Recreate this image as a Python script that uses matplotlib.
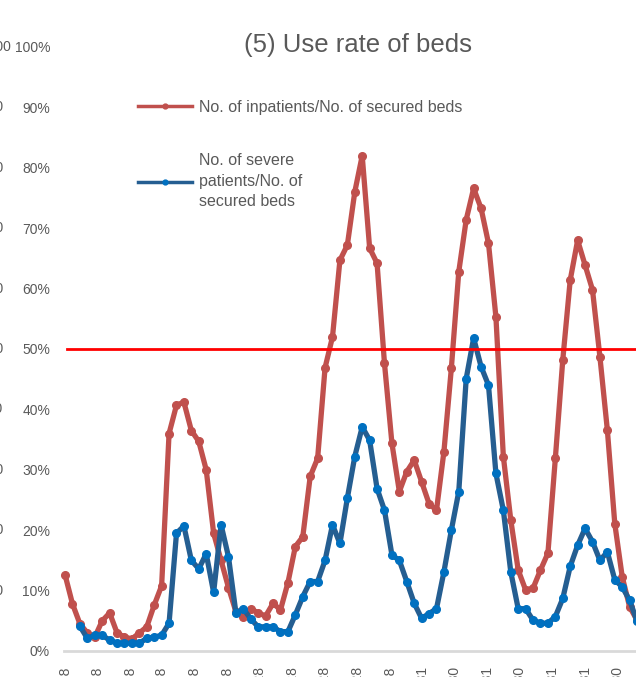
import numpy as np
import pandas as pd
import matplotlib
matplotlib.use("Agg")
import matplotlib.pyplot as plt
from matplotlib.lines import Line2D

plt.rcParams["font.family"] = ["Liberation Sans", "DejaVu Sans"]

# weekly values, % of secured beds
inpatients = [12.6, 7.8, 4.5, 3.0, 2.3, 5.0, 6.3, 3.0, 2.3, 2.0,
              3.0, 4.0, 7.6, 10.8, 36.0, 40.7, 41.2, 36.5, 34.7, 30.0,
              19.5, 15.0, 10.5, 6.5, 5.7, 7.0, 6.3, 5.8, 7.9, 6.8,
              11.3, 17.3, 18.9, 28.9, 31.9, 46.9, 52.0, 64.7, 67.2, 76.0,
              82.0, 66.7, 64.2, 47.6, 34.4, 26.4, 29.7, 31.6, 28.0, 24.4,
              23.3, 33.0, 46.8, 62.8, 71.4, 76.6, 73.3, 67.5, 55.3, 32.2,
              21.7, 13.4, 10.1, 10.4, 13.4, 16.2, 31.9, 48.2, 61.4, 68.0,
              63.9, 59.8, 48.7, 36.6, 21.1, 12.3, 7.3, 5.1]
severe = [np.nan, np.nan, 4.1, 2.1, 2.6, 2.6, 1.8, 1.3, 1.3, 1.3,
          1.3, 2.1, 2.3, 2.6, 4.6, 19.5, 20.7, 15.0, 13.6, 16.1,
          9.7, 20.9, 15.6, 6.3, 7.0, 5.3, 4.0, 4.0, 4.0, 3.2,
          3.2, 6.0, 9.0, 11.5, 11.5, 15.0, 20.9, 17.8, 25.3, 32.2,
          37.1, 34.9, 26.9, 23.3, 15.9, 15.0, 11.5, 7.9, 5.4, 6.2,
          7.0, 13.1, 20.0, 26.4, 45.1, 51.8, 47.1, 44.0, 29.4, 23.3,
          13.1, 7.0, 7.0, 5.1, 4.6, 4.6, 5.7, 8.7, 14.0, 17.5,
          20.3, 18.1, 15.0, 16.4, 11.8, 10.6, 8.4, 4.9]
dates = pd.date_range("2020-04-28", periods=len(inpatients), freq="7D")
threshold = 50

tick_dates = ["2020-04-28", "2020-05-28", "2020-06-28", "2020-07-28", "2020-08-28",
              "2020-09-28", "2020-10-28", "2020-11-28", "2020-12-28", "2021-01-28",
              "2021-02-28", "2021-03-31", "2021-04-30", "2021-05-31", "2021-06-30",
              "2021-07-31", "2021-08-31", "2021-09-30"]
left_fragments = [1000, 900, 800, 700, 600, 500, 400, 300, 200, 100]

red = "#C0504D"
blue_line = "#255E91"
blue_mark = "#0070C0"
grey_txt = "#595959"

W, H = 636, 677
fig = plt.figure(figsize=(W / 100, H / 100), dpi=100)
ax = fig.add_axes([64 / W, 26 / H, (W - 64) / W, 604 / H])

ax.plot(dates, np.array(inpatients) / 100, color=red, lw=3.8, marker="o", ms=5.5,
        solid_capstyle="round", solid_joinstyle="round", zorder=3, clip_on=False)
ax.plot(dates, np.array(severe) / 100, color=blue_line, lw=3.8, marker="o", ms=5.5,
        mfc=blue_mark, mec=blue_mark, solid_capstyle="round", solid_joinstyle="round",
        zorder=4, clip_on=False)
ax.axhline(threshold / 100, xmin=3 / (W - 64), color="#FF0000", lw=2, zorder=5)

x0 = dates[0] - pd.Timedelta(days=1)
ax.set_xlim(x0, x0 + pd.Timedelta(days=539))
ax.set_ylim(0, 1)

for s in ["top", "right", "left"]:
    ax.spines[s].set_visible(False)
ax.spines["bottom"].set_color("#D9D9D9")
ax.spines["bottom"].set_linewidth(2)
ax.spines["bottom"].set_zorder(1)

ax.set_yticks(np.arange(0, 1.01, 0.1))
ax.set_yticklabels([f"{v}%" for v in range(0, 101, 10)])
ax.tick_params(axis="y", length=0, pad=10, labelsize=10, labelcolor=grey_txt)

tk = pd.to_datetime(tick_dates)
ax.set_xticks(tk)
ax.set_xticklabels([f"{d.year}/{d.month}/{d.day}" for d in tk], rotation=90)
ax.tick_params(axis="x", length=0, pad=11, labelsize=10, labelcolor=grey_txt)

fig.text(358 / W, 1 - 45 / H, "(5) Use rate of beds", ha="center", va="center",
         fontsize=18.5, color=grey_txt)

# pieces of the neighbouring chart's axis, cut by the left edge
for i, v in enumerate(left_fragments):
    fig.text(-20 / W, (26 + 604 * (10 - i) / 10) / H, str(v), ha="left", va="center",
             fontsize=10, color=grey_txt)

handles = [Line2D([], [], color=red, lw=2.5, marker="o", ms=3.5),
           Line2D([], [], color=blue_line, lw=2.5, marker="o", ms=3.5, mfc=blue_mark, mec=blue_mark)]
labels = ["No. of inpatients/No. of secured beds",
          "No. of severe\npatients/No. of\nsecured beds"]
leg = fig.legend(handles, labels, loc="upper left", bbox_to_anchor=(138 / W, 1 - 100 / H),
                 frameon=False, fontsize=11.5, labelcolor=grey_txt, handlelength=3.4,
                 handletextpad=0.45, borderpad=0, borderaxespad=0, labelspacing=2.4)
for t in leg.get_texts():
    t.set_linespacing(1.45)

fig.savefig("out.png", dpi=100)
